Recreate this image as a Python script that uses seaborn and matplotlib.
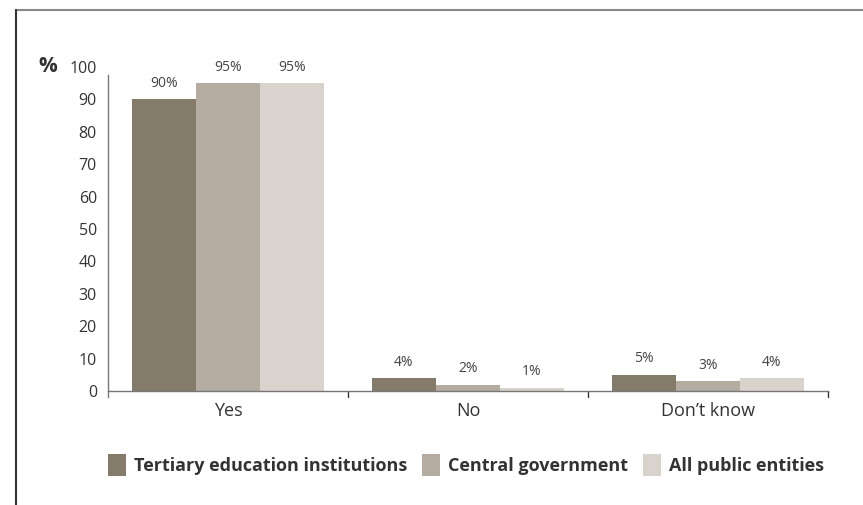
import matplotlib
matplotlib.use("Agg")
import matplotlib.pyplot as plt
from matplotlib.lines import Line2D
from matplotlib.patches import Patch
import seaborn as sns
import pandas as pd

categories = ["Yes", "No", "Don\u2019t know"]
groups = ["Tertiary education institutions", "Central government", "All public entities"]
tertiary = [90, 4, 5]
central = [95, 2, 3]
all_entities = [95, 1, 4]
yticks = [0, 10, 20, 30, 40, 50, 60, 70, 80, 90, 100]
colors = ["#857B6B", "#B4ACA0", "#D9D3CD"]

rows = []
for grp, vals in zip(groups, [tertiary, central, all_entities]):
    for cat, v in zip(categories, vals):
        rows.append({"Response": cat, "Group": grp, "Value": v})
df = pd.DataFrame(rows)

sns.set_style("white")
plt.rcParams["font.family"] = ["Open Sans", "DejaVu Sans"]

fig = plt.figure(figsize=(8.63, 5.05), dpi=100)
ax = fig.add_axes([108 / 863, 1 - 391 / 505, 720 / 863, 324 / 505])

sns.barplot(data=df, x="Response", y="Value", hue="Group", order=categories,
            hue_order=groups, palette=colors, width=0.8, saturation=1,
            linewidth=0, ax=ax, legend=False)

for cont in ax.containers:
    ax.bar_label(cont, labels=[f"{int(round(b.get_height()))}%" for b in cont],
                 padding=6, fontsize=10, color="#444444")

ax.set_xlim(-0.5, 2.5)
ax.set_ylim(0, 100)
ax.set_yticks(yticks)
ax.set_yticklabels([str(t) for t in yticks], fontsize=11.5, color="#333333")
ax.tick_params(axis="y", length=0, pad=8)
ax.tick_params(axis="x", length=0, pad=8, labelsize=13, labelcolor="#333333")
ax.set_xlabel("")
ax.set_ylabel("")

for side in ["top", "right"]:
    ax.spines[side].set_visible(False)
ax.spines["left"].set_color("#777777")
ax.spines["left"].set_linewidth(1.0)
ax.spines["left"].set_bounds(-2.0, 97.5)
ax.spines["bottom"].set_color("#777777")
ax.spines["bottom"].set_linewidth(1.0)

# category separators below the baseline
for xb in [0.5, 1.5, 2.5]:
    ax.plot([xb, xb], [0, -2.0], color="#333333", lw=1.0, clip_on=False)

ax.text(-0.71, 100, "%", fontsize=15, fontweight="bold", color="#333333",
        ha="right", va="center", transform=ax.transData)

handles = [Patch(facecolor=c, edgecolor="none") for c in colors]
fig.legend(handles, groups, loc="center", bbox_to_anchor=(466 / 863, 1 - 465 / 505),
           ncol=3, frameon=False, prop={"weight": "bold", "size": 13},
           handlelength=1.0, handleheight=1.5, handletextpad=0.45,
           columnspacing=0.8, labelcolor="#333333")

# frame lines along the top and left edges
fig.add_artist(Line2D([15.5 / 863, 1.0], [1 - 9.5 / 505, 1 - 9.5 / 505],
                      transform=fig.transFigure, color="#888888", lw=1.5))
fig.add_artist(Line2D([15.5 / 863, 15.5 / 863], [0, 1 - 9.5 / 505],
                      transform=fig.transFigure, color="#333333", lw=1.5))

fig.savefig("out.png", dpi=100)
